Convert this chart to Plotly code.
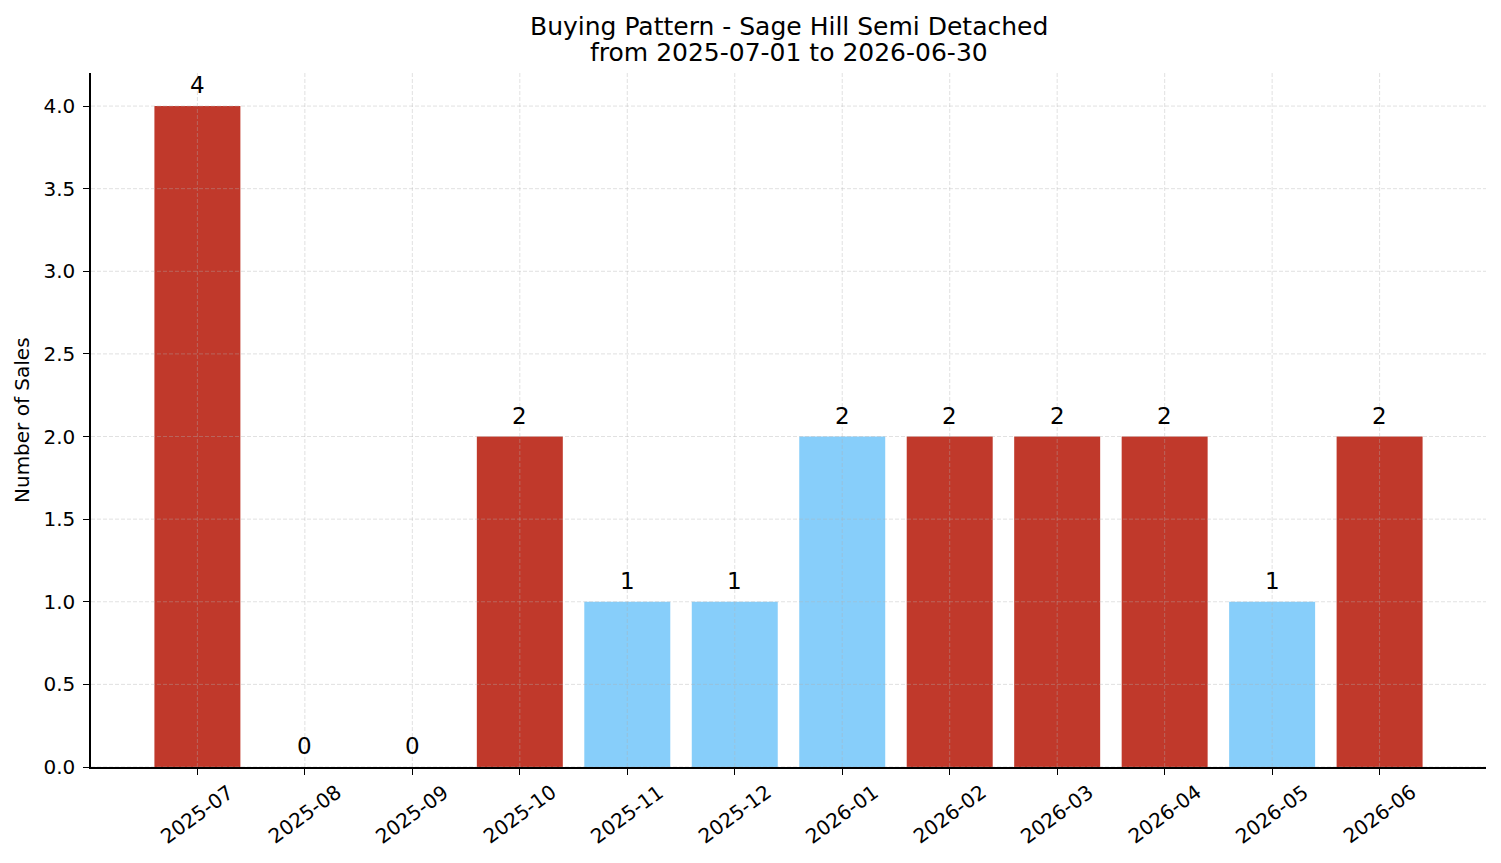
import plotly.graph_objects as go

months = ["2025-07", "2025-08", "2025-09", "2025-10", "2025-11", "2025-12",
          "2026-01", "2026-02", "2026-03", "2026-04", "2026-05", "2026-06"]
sales = [4, 0, 0, 2, 1, 1, 2, 2, 2, 2, 1, 2]
bar_colors = ["#c0392b", "#c0392b", "#c0392b", "#c0392b", "#87cefa", "#87cefa",
              "#87cefa", "#c0392b", "#c0392b", "#c0392b", "#87cefa", "#c0392b"]
y_ticks = [0.0, 0.5, 1.0, 1.5, 2.0, 2.5, 3.0, 3.5, 4.0]
title_lines = ["Buying Pattern - Sage Hill Semi Detached", "from 2025-07-01 to 2026-06-30"]

FONT = "DejaVu Sans"
idx = list(range(len(months)))
PLOT_H = 694.0

fig = go.Figure()
fig.add_trace(go.Bar(x=idx, y=sales, marker_color=bar_colors, width=0.8,
                     marker_line_width=0, showlegend=False, hoverinfo="x+y"))

grid = dict(color="rgba(176,176,176,0.55)", width=0.7, dash="4px,2px")
shapes = []
for t in y_ticks:
    shapes.append(dict(type="line", xref="paper", yref="y", x0=0, x1=1, y0=t, y1=t,
                       line=grid, layer="above"))
for i in idx:
    shapes.append(dict(type="line", xref="x", yref="paper", x0=i, x1=i, y0=0, y1=1,
                       line=grid, layer="above"))

annotations = []
for i, v in zip(idx, sales):
    annotations.append(dict(x=i, y=v, xref="x", yref="y", text=str(v), showarrow=False,
                            yshift=21, yanchor="middle",
                            font=dict(family=FONT, size=23, color="#000")))
for i, m in zip(idx, months):
    annotations.append(dict(x=i, y=0, xref="x", yref="y", text=m, showarrow=False,
                            yshift=-47, textangle=-36, xanchor="center", yanchor="middle",
                            font=dict(family=FONT, size=20, color="#000")))
annotations.append(dict(x=-69 / 1395, y=0.5, xref="paper", yref="paper", text="Number of Sales",
                        textangle=-90, showarrow=False, xanchor="center", yanchor="middle",
                        font=dict(family=FONT, size=20, color="#000")))
for line, ypx in zip(title_lines, [26, 53]):
    annotations.append(dict(x=0.5, y=(767 - ypx) / PLOT_H, xref="paper", yref="paper",
                            text=line, showarrow=False, xanchor="center", yanchor="middle",
                            font=dict(family=FONT, size=25, color="#000")))

fig.update_layout(
    width=1501, height=863,
    margin=dict(l=91, r=15, t=73, b=96),
    paper_bgcolor="white", plot_bgcolor="white",
    font=dict(family=FONT, size=20, color="#000"),
    xaxis=dict(range=[-0.99, 11.99], tickmode="array", tickvals=idx, ticktext=[""] * len(idx),
               showgrid=False, zeroline=False, showline=True, linecolor="#000", linewidth=1.5,
               ticks="outside", ticklen=6, tickwidth=1.3, tickcolor="#000", fixedrange=True),
    yaxis=dict(range=[0, 4.2], tickmode="array", tickvals=y_ticks,
               ticktext=[f"{t:.1f}" for t in y_ticks],
               showgrid=False, zeroline=False, showline=True, linecolor="#000", linewidth=1.5,
               ticks="outside", ticklen=6, tickwidth=1.3, tickcolor="#000",
               ticklabelstandoff=4,
               tickfont=dict(family=FONT, size=20, color="#000"), fixedrange=True),
    shapes=shapes, annotations=annotations, bargap=0.2,
)

fig.write_html("out.html")
